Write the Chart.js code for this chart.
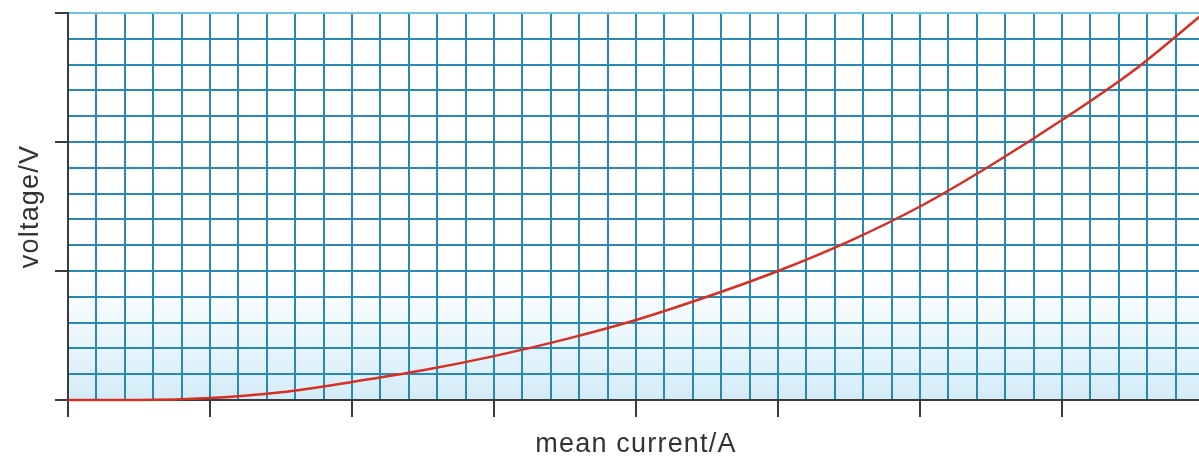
<!DOCTYPE html>
<html>
<head>
<meta charset="utf-8">
<script src="https://cdn.jsdelivr.net/npm/chart.js@4.4.0/dist/chart.umd.min.js"></script>
<style>
  html, body { margin: 0; padding: 0; background: #fff; overflow: hidden; }
  #wrap { width: 1206px; height: 458px; }
</style>
</head>
<body>
<div id="wrap"><canvas id="ivChart"></canvas></div>
<script>
// mean current (A, in major grid units) and the voltage measured at each
const currentValues = [0, 0.5, 1, 1.5, 2, 2.5, 3, 3.5, 4, 4.5, 5, 5.5, 6, 6.5, 7, 7.5, 8];
const voltageValues = [0, 0, 0.015, 0.06, 0.14, 0.23, 0.34, 0.47, 0.62, 0.8, 1.0, 1.23, 1.5, 1.82, 2.17, 2.55, 3.0];

const xTitle = 'mean current/A';
const yTitle = 'voltage/V';
const xRange = [0, 8];
const yRange = [0, 3];
const minorStep = 0.2;

const gridBlue = 'rgb(40,138,180)';
const gridTop = 'rgb(105,196,226)';
const axisDark = '#3a3a3a';
const curveRed = 'rgb(214,48,34)';
const titleFont = { family: "'Liberation Sans', Arial, sans-serif", size: 27, lineHeight: 1 };

const isMajor = v => Math.abs(v - Math.round(v)) < 1e-6;

// graph-paper fill: white fading to pale blue near the bottom
const paperFill = {
  id: 'paperFill',
  beforeDraw(chart) {
    const { ctx, chartArea: a } = chart;
    const g = ctx.createLinearGradient(0, a.top, 0, a.bottom);
    g.addColorStop(0, '#ffffff');
    g.addColorStop(0.68, '#ffffff');
    g.addColorStop(1, '#d4ecf8');
    ctx.save();
    ctx.fillStyle = g;
    ctx.fillRect(a.left, a.top, a.right - a.left, a.bottom - a.top);
    ctx.restore();
    // slightly looser lettering for the axis titles
    ctx.letterSpacing = '1.2px';
  }
};

const points = currentValues.map((x, i) => ({ x: x, y: voltageValues[i] }));

new Chart(document.getElementById('ivChart'), {
  type: 'line',
  data: {
    datasets: [{
      data: points,
      borderColor: curveRed,
      borderWidth: 2.5,
      pointRadius: 0,
      fill: false,
      cubicInterpolationMode: 'monotone',
      clip: false
    }]
  },
  options: {
    responsive: true,
    maintainAspectRatio: false,
    animation: false,
    devicePixelRatio: 1,
    layout: { padding: { left: 8, top: 13, right: 2, bottom: 0 } },
    plugins: { legend: { display: false }, tooltip: { enabled: false } },
    scales: {
      x: {
        type: 'linear',
        min: xRange[0],
        max: xRange[1],
        ticks: { display: false, stepSize: minorStep, maxTicksLimit: 100 },
        grid: {
          color: gridBlue,
          lineWidth: 2,
          drawTicks: true,
          tickLength: 17,
          tickWidth: ctx => isMajor(ctx.tick.value) ? 2 : 0,
          tickColor: axisDark
        },
        border: { color: axisDark, width: 2 },
        title: {
          display: true,
          text: xTitle,
          color: '#333',
          font: titleFont,
          padding: { top: 14, bottom: 0 }
        }
      },
      y: {
        type: 'linear',
        min: yRange[0],
        max: yRange[1],
        ticks: { display: false, stepSize: minorStep, maxTicksLimit: 100 },
        grid: {
          color: ctx => Math.abs(ctx.tick.value - yRange[1]) < 1e-6 ? gridTop : gridBlue,
          lineWidth: 2,
          drawTicks: true,
          tickLength: 13,
          tickWidth: ctx => isMajor(ctx.tick.value) ? 2 : 0,
          tickColor: axisDark
        },
        border: { color: axisDark, width: 2 },
        title: {
          display: true,
          text: yTitle,
          color: '#333',
          font: titleFont,
          padding: { top: 9.5, bottom: 10.5 }
        }
      }
    }
  },
  plugins: [paperFill]
});
</script>
</body>
</html>
